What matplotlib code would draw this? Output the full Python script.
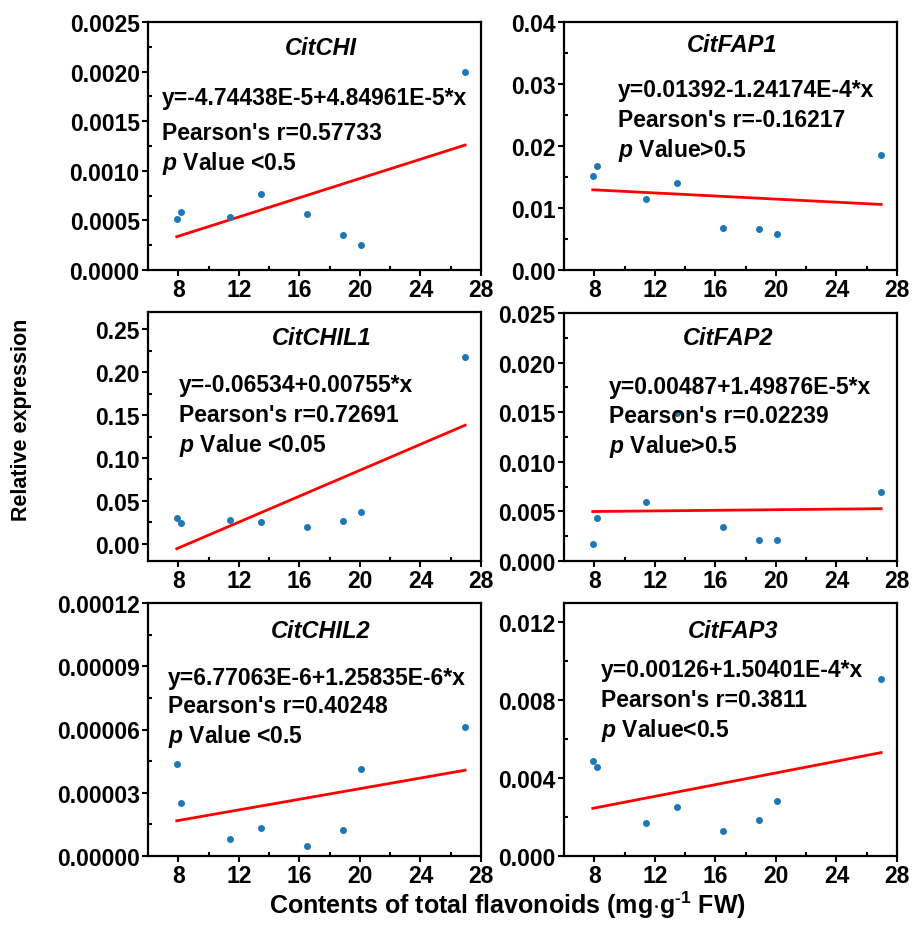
import numpy as np
import matplotlib
matplotlib.use("Agg")
import matplotlib.pyplot as plt
from matplotlib.ticker import MultipleLocator, FormatStrFormatter

plt.rcParams['font.family'] = ['Liberation Sans', 'DejaVu Sans']
plt.rcParams['font.weight'] = 'bold'
plt.rcParams['mathtext.fontset'] = 'custom'
plt.rcParams['mathtext.rm'] = 'Liberation Sans:bold'
plt.rcParams['mathtext.it'] = 'Liberation Sans:italic:bold'
plt.rcParams['mathtext.bf'] = 'Liberation Sans:bold'

# total flavonoid content (x) shared by all panels
flavonoids = [7.9, 8.15, 11.45, 13.45, 16.5, 18.85, 20.05, 26.95]

genes = ["CitCHI", "CitFAP1", "CitCHIL1", "CitFAP2", "CitCHIL2", "CitFAP3"]

chi = [0.000514, 0.000582, 0.000531, 0.000766, 0.000561, 0.000356, 0.000255, 0.00200]
fap1 = [0.0152, 0.0168, 0.01145, 0.0141, 0.00677, 0.00666, 0.00581, 0.0186]
chil1 = [0.0300, 0.0242, 0.0272, 0.0254, 0.0199, 0.0269, 0.0366, 0.2173]
fap2 = [0.00168, 0.00430, 0.00598, 0.01492, 0.00340, 0.00209, 0.00215, 0.00699]
chil2 = [4.38e-5, 2.53e-5, 8.3e-6, 1.31e-5, 4.8e-6, 1.23e-5, 4.12e-5, 6.13e-5]
fap3 = [0.00489, 0.00458, 0.00172, 0.00250, 0.00130, 0.00185, 0.00284, 0.00910]
expression = [chi, fap1, chil1, fap2, chil2, fap3]

# fitted lines as printed on the chart
intercepts = [-4.74438e-5, 0.01392, -0.06534, 0.00487, 6.77063e-6, 0.00126]
slopes = [4.84961e-5, -1.24174e-4, 0.00755, 1.49876e-5, 1.25835e-6, 1.50401e-4]

equations = ["y=-4.74438E-5+4.84961E-5*x", "y=0.01392-1.24174E-4*x",
             "y=-0.06534+0.00755*x", "y=0.00487+1.49876E-5*x",
             "y=6.77063E-6+1.25835E-6*x", "y=0.00126+1.50401E-4*x"]
pearson = ["Pearson's r=0.57733", "Pearson's r=-0.16217", "Pearson's r=0.72691",
           "Pearson's r=0.02239", "Pearson's r=0.40248", "Pearson's r=0.3811"]
pvalues = [r"$p$ Value <0.5", r"$p$ Value>0.5", r"$p$ Value <0.05",
           r"$p$ Value>0.5", r"$p$ Value <0.5", r"$p$ Value<0.5"]

ylims = [(0, 0.0025), (0, 0.04), (-0.02, 0.27), (0, 0.025), (0, 0.00012), (0, 0.013)]
ymajor = [0.0005, 0.01, 0.05, 0.005, 0.00003, 0.004]
yfmt = ['%.4f', '%.2f', '%.2f', '%.3f', '%.5f', '%.3f']

# axes boxes in pixels (left, top, right, bottom)
W, H = 914, 929
boxes = [(148, 23, 481, 271), (564, 23, 897, 271),
         (148, 313, 481, 562), (564, 314, 897, 562),
         (148, 604, 481, 857), (564, 604, 897, 857)]

# text placement (axes fraction): title (x, y), text left x, 3 baselines
title_pos = [(0.519, 0.899), (0.504, 0.911), (0.522, 0.898),
             (0.493, 0.902), (0.517, 0.890), (0.508, 0.890)]
text_x = [0.041, 0.163, 0.094, 0.136, 0.061, 0.110]
text_y = [(0.669, 0.528, 0.407), (0.703, 0.582, 0.461), (0.684, 0.563, 0.443),
          (0.676, 0.560, 0.438), (0.680, 0.568, 0.449), (0.713, 0.594, 0.475)]

fs = 16.5

fig = plt.figure(figsize=(W / 100, H / 100), dpi=100)

for i in range(6):
    l, t, r, b = boxes[i]
    ax = fig.add_axes([l / W, 1 - b / H, (r - l) / W, (b - t) / H])

    x = np.array(flavonoids)
    y = np.array(expression[i])
    ax.plot(x, y, 'o', color='#1f77b4', markersize=4.0, zorder=3)

    xl = np.array([x.min(), x.max()])
    ax.plot(xl, intercepts[i] + slopes[i] * xl, color='#ff0000', lw=2, zorder=2)

    ax.set_xlim(6, 28)
    ax.set_ylim(*ylims[i])
    ax.set_xticks([8, 12, 16, 20, 24, 28])
    ax.set_xticklabels(['8', '12', '16', '20', '24', '28'])
    ax.set_xticks([10, 14, 18, 22, 26], minor=True)
    ax.yaxis.set_major_locator(MultipleLocator(ymajor[i]))
    ax.yaxis.set_minor_locator(MultipleLocator(ymajor[i] / 2))
    ax.yaxis.set_major_formatter(FormatStrFormatter(yfmt[i]))
    if i == 2:
        ax.set_yticks([0, 0.05, 0.10, 0.15, 0.20, 0.25])

    ax.tick_params(which='major', direction='out', length=4, width=1.5,
                   labelsize=fs, pad=2)
    ax.tick_params(which='minor', direction='in', length=3, width=1.5)
    for lab in ax.get_xticklabels() + ax.get_yticklabels():
        lab.set_fontweight('bold')
    for s in ax.spines.values():
        s.set_linewidth(1.6)

    ax.text(title_pos[i][0], title_pos[i][1], genes[i], transform=ax.transAxes,
            ha='center', va='center', fontsize=17, fontweight='bold',
            fontstyle='italic', zorder=4)
    for line, yy in zip([equations[i], pearson[i], pvalues[i]], text_y[i]):
        ax.text(text_x[i], yy, line, transform=ax.transAxes, ha='left',
                va='baseline', fontsize=fs, fontweight='bold', zorder=4)

fig.text(22 / W, 1 - 420 / H, "Relative expression", rotation=90,
         ha='center', va='center', fontsize=15.5, fontweight='bold')
fig.text(507 / W, 1 - 905 / H, r"Contents of total flavonoids (mg$\cdot$g$^{\text{-1}}$ FW)",
         ha='center', va='center', fontsize=18, fontweight='bold')

plt.savefig("out.png", dpi=100)
print("done")
